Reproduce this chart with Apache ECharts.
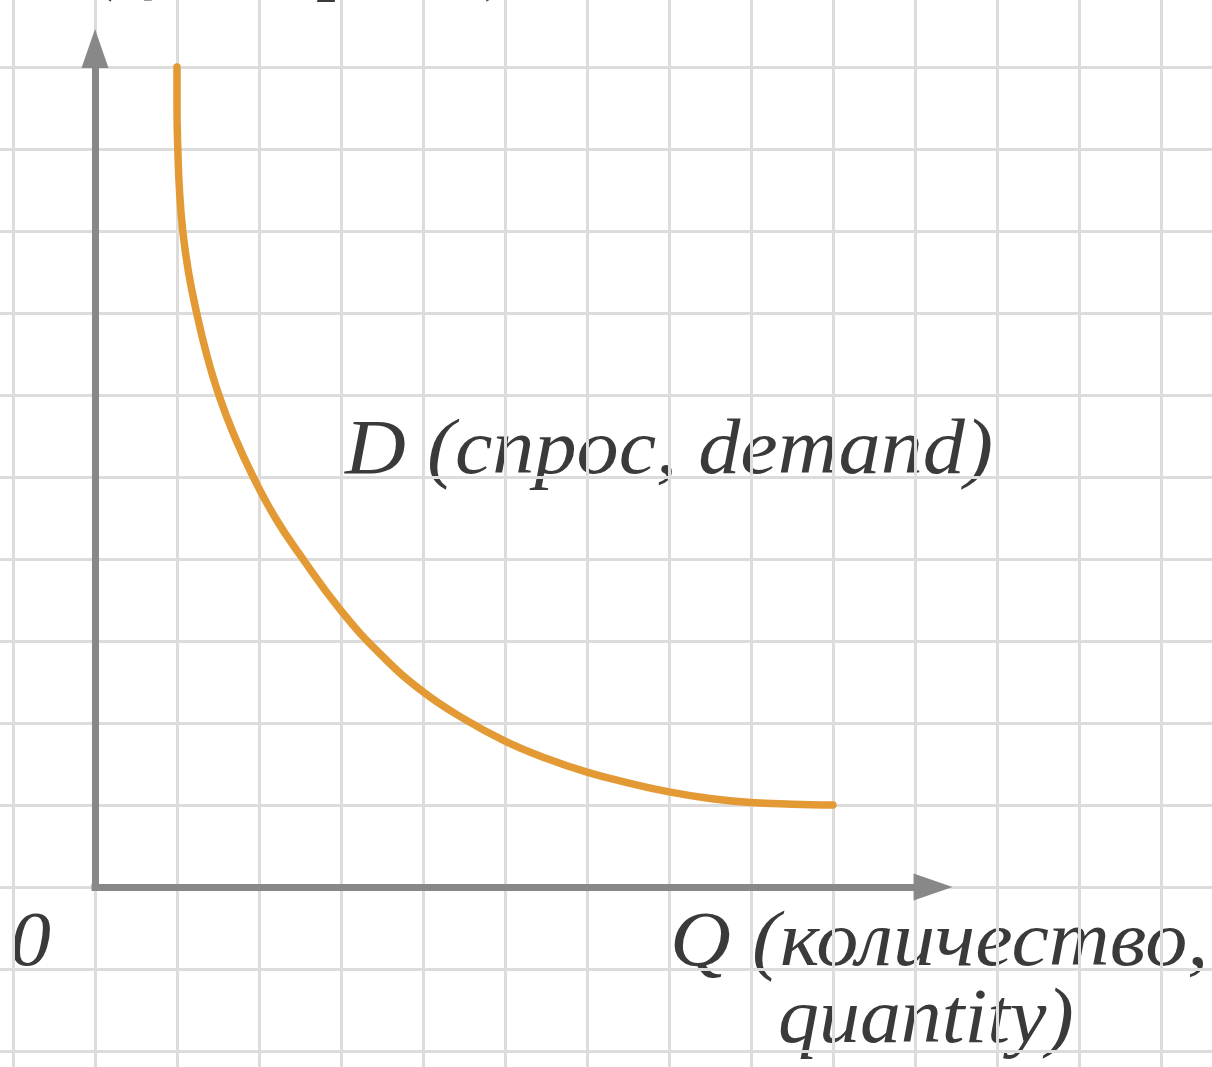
<!DOCTYPE html>
<html>
<head>
<meta charset="utf-8">
<title>Demand curve</title>
<script src="https://cdn.jsdelivr.net/npm/echarts@6/dist/echarts.min.js"></script>
<style>
    html, body { margin: 0; padding: 0; background: #fff; }
    #chart { width: 1212px; height: 1067px; }
</style>
</head>
<body>
<div id="chart"></div>
<script>
// demand curve, grid units (1 cell = 1)
const quantity = [1.0, 1.0, 1.01, 1.03, 1.07, 1.14, 1.24, 1.36, 1.51, 1.7, 1.93, 2.2, 2.5, 3.0, 3.5, 4.0, 4.5, 5.0, 5.5, 6.0, 6.5, 7.0, 7.5, 8.0, 8.5, 9.0];
const price = [10, 9.5, 9, 8.5, 8, 7.5, 7, 6.5, 6, 5.5, 5.0, 4.5, 4.05, 3.37, 2.82, 2.38, 2.05, 1.78, 1.57, 1.4, 1.27, 1.16, 1.08, 1.03, 1.01, 1.0];

// where the two axis arrows end
const xAxisEnd = 10.22;
const yAxisEnd = 10.225;

const labels = {
    curve: "D (спрос, demand)",
    q1: "Q (количество,",
    q2: "quantity)",
    p: "P (цена, price)",
    zero: "0",
};

const font = '"Liberation Serif", "DejaVu Serif", serif';
const textColor = "#3a3a3a";
const curveColor = "#e39a35";
const axisColor = "#888888";
const gridColor = "#dcdcdc";

const textItem = (text, x, y, sx) => ({
    type: "text",
    x: x,
    y: y,
    scaleX: sx,
    silent: true,
    style: {
        text: text,
        fill: textColor,
        font: `italic 78px ${font}`,
        align: "left",
        verticalAlign: "middle",
    },
});

const hidden = {
    axisLine: { show: false },
    axisTick: { show: false },
    axisLabel: { show: false },
};

const state = {
    chart: null,
    init: () => {
        state.chart = echarts.init(document.querySelector("#chart"), null, { renderer: "canvas" });
        state.draw();
    },
    draw: () => {
        const gridLine = {
            show: true,
            lineStyle: { color: gridColor, width: 3 },
        };
        state.chart.setOption({
            animation: false,
            backgroundColor: "#ffffff",
            // grid 0 only carries the horizontal lines (full width),
            // grid 1 carries the vertical lines and the drawing
            grid: [
                { left: 0, right: 0, top: 67, height: 984, containLabel: false },
                { left: 13, width: 1148, top: 0, height: 1067, containLabel: false },
            ],
            xAxis: [
                { type: "value", gridIndex: 0, min: 0, max: 1, splitLine: { show: false }, ...hidden },
                { type: "value", gridIndex: 1, min: -1, max: 13, interval: 1, splitLine: gridLine, ...hidden },
            ],
            yAxis: [
                { type: "value", gridIndex: 0, min: -2, max: 10, interval: 1, splitLine: gridLine, ...hidden },
                { type: "value", gridIndex: 1, min: -180 / 82, max: 887 / 82, splitLine: { show: false }, ...hidden },
            ],
            series: [
                {
                    name: "axes",
                    type: "line",
                    xAxisIndex: 1,
                    yAxisIndex: 1,
                    data: [],
                    silent: true,
                    markLine: {
                        silent: true,
                        symbol: ["none", "triangle"],
                        symbolSize: [27, 39],
                        label: { show: false },
                        emphasis: { disabled: true },
                        lineStyle: { color: axisColor, width: 7, type: "solid", cap: "square", opacity: 1 },
                        itemStyle: { color: axisColor },
                        data: [
                            [{ coord: [0, 0] }, { coord: [0, yAxisEnd] }],
                            [{ coord: [0, 0] }, { coord: [xAxisEnd, 0] }],
                        ],
                    },
                },
                {
                    name: "D",
                    type: "line",
                    xAxisIndex: 1,
                    yAxisIndex: 1,
                    data: quantity.map((q, i) => [q, price[i]]),
                    smooth: 0.45,
                    symbol: "none",
                    silent: true,
                    lineStyle: { color: curveColor, width: 7.5, cap: "round", join: "round" },
                },
            ],
            graphic: [
                textItem(labels.p, 22, -36, 1.05),
                textItem(labels.curve, 345, 452, 1.08),
                textItem(labels.zero, 10, 944, 1.05),
                textItem(labels.q1, 670, 944, 1.08),
                textItem(labels.q2, 778, 1021, 1.05),
            ],
        });
    },
};
window.addEventListener("load", state.init);
</script>
</body>
</html>
